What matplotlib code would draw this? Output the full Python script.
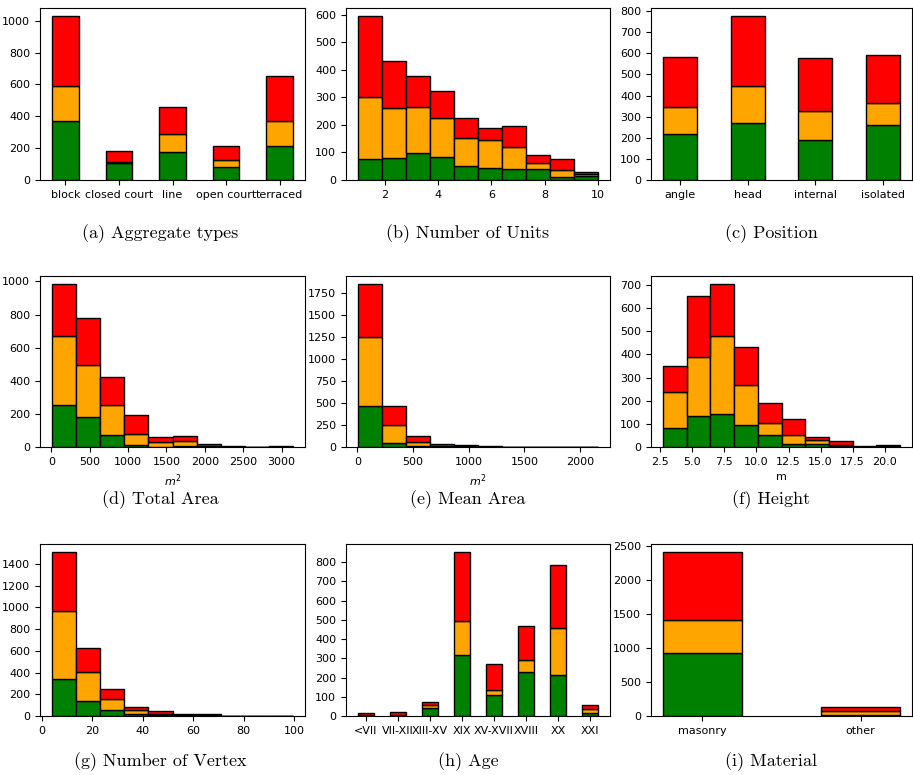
import matplotlib
matplotlib.use("Agg")
import matplotlib.pyplot as plt
from matplotlib.ticker import MultipleLocator
import numpy as np

# stacked counts per class (green, orange, red increments)
colors = ["green", "orange", "red"]

agg_types = ["block", "closed court", "line", "open court", "terraced"]
agg_green = [368, 105, 174, 80, 215]
agg_orange = [220, 10, 115, 46, 155]
agg_red = [441, 69, 171, 89, 285]

units_range = [1, 10]
units_green = [77, 81, 99, 85, 52, 42, 41, 39, 12, 16]
units_orange = [225, 179, 167, 139, 102, 102, 79, 21, 25, 7]
units_red = [293, 173, 111, 100, 71, 46, 75, 32, 38, 6]

positions = ["angle", "head", "internal", "isolated"]
pos_green = [216, 271, 189, 262]
pos_orange = [131, 172, 136, 101]
pos_red = [237, 333, 255, 227]

total_area_range = [9, 3149]
tarea_green = [254, 181, 70, 10, 2, 4, 0, 0, 0, 0]
tarea_orange = [416, 312, 182, 68, 28, 30, 8, 2, 0, 0]
tarea_red = [314, 284, 171, 115, 28, 34, 12, 4, 0, 5]

mean_area_range = [6, 2160]
marea_green = [470, 49, 8, 0, 0, 0, 0, 0, 0, 0]
marea_orange = [780, 197, 49, 12, 6, 3, 0, 0, 1, 0]
marea_red = [602, 220, 72, 26, 17, 8, 4, 0, 3, 1]

height_range = [2.7, 21.2]
height_green = [82, 133, 144, 95, 52, 13, 12, 3, 1, 1]
height_orange = [154, 256, 337, 174, 53, 37, 17, 6, 1, 2]
height_red = [113, 262, 222, 162, 87, 71, 13, 17, 2, 4]

vertex_range = [4, 99.5]
vertex_green = [338, 135, 58, 18, 6, 4, 2, 0, 0, 0]
vertex_orange = [626, 273, 96, 37, 15, 4, 3, 0, 1, 0]
vertex_red = [543, 218, 92, 31, 28, 7, 11, 0, 1, 0]

ages = ["<VII", "VII-XII", "XIII-XV", "XIX", "XV-XVII", "XVIII", "XX", "XXI"]
age_green = [3, 2, 40, 318, 109, 227, 215, 16]
age_orange = [4, 3, 19, 175, 28, 66, 242, 20]
age_red = [7, 14, 14, 358, 132, 176, 329, 21]

materials = ["masonry", "other"]
mat_green = [920, 18]
mat_orange = [492, 52]
mat_red = [999, 58]

captions = ["(a) Aggregate types", "(b) Number of Units", "(c) Position",
            "(d) Total Area", "(e) Mean Area", "(f) Height",
            "(g) Number of Vertex", "(h) Age", "(i) Material"]

W, H = 913, 775
fig = plt.figure(figsize=(W / 100, H / 100), dpi=100)
plt.rcParams['font.size'] = 8


def px_axes(left, top, right, bottom):
    return fig.add_axes([left / W, 1 - bottom / H, (right - left) / W, (bottom - top) / H])


def stacked_bars(ax, labels, series):
    x = np.arange(len(labels))
    bottom = np.zeros(len(labels))
    for vals, c in zip(series, colors):
        ax.bar(x, vals, width=0.5, bottom=bottom, color=c, edgecolor="black")
        bottom += np.array(vals)
    ax.set_xticks(x)
    ax.set_xticklabels(labels)


def stacked_hist(ax, rng, series):
    edges = np.linspace(rng[0], rng[1], len(series[0]) + 1)
    bottom = np.zeros(len(series[0]))
    for vals, c in zip(series, colors):
        ax.bar(edges[:-1], vals, width=np.diff(edges), align="edge", bottom=bottom,
               color=c, edgecolor="black")
        bottom += np.array(vals)


cols = [(40, 305), (346, 610), (651, 912)]
rows = [(8, 180), (276, 447), (544, 716)]
cap_x = [160, 468, 771]
cap_y = [234, 500, 762]

axes = []
for r in rows:
    for c in cols:
        axes.append(px_axes(c[0], r[0], c[1], r[1]))

stacked_bars(axes[0], agg_types, [agg_green, agg_orange, agg_red])
stacked_hist(axes[1], units_range, [units_green, units_orange, units_red])
stacked_bars(axes[2], positions, [pos_green, pos_orange, pos_red])
stacked_hist(axes[3], total_area_range, [tarea_green, tarea_orange, tarea_red])
axes[3].set_xlabel("$m^2$")
stacked_hist(axes[4], mean_area_range, [marea_green, marea_orange, marea_red])
axes[4].set_xlabel("$m^2$")
stacked_hist(axes[5], height_range, [height_green, height_orange, height_red])
axes[5].set_xlabel("m")
stacked_hist(axes[6], vertex_range, [vertex_green, vertex_orange, vertex_red])
stacked_bars(axes[7], ages, [age_green, age_orange, age_red])
stacked_bars(axes[8], materials, [mat_green, mat_orange, mat_red])

# tick spacing as in the original panels
y_steps = [200, 100, 100, 200, 250, 100, 200, 100, 500]
x_steps = {1: 2, 3: 500, 4: 500, 5: 2.5, 6: 20}
for i, ax in enumerate(axes):
    ax.yaxis.set_major_locator(MultipleLocator(y_steps[i]))
    if i in x_steps:
        ax.xaxis.set_major_locator(MultipleLocator(x_steps[i]))

for i, cap in enumerate(captions):
    fig.text(cap_x[i % 3] / W, 1 - cap_y[i // 3] / H, cap, ha="center", va="center",
             family="cmr10", fontsize=13)

fig.savefig("out.png", dpi=100)
